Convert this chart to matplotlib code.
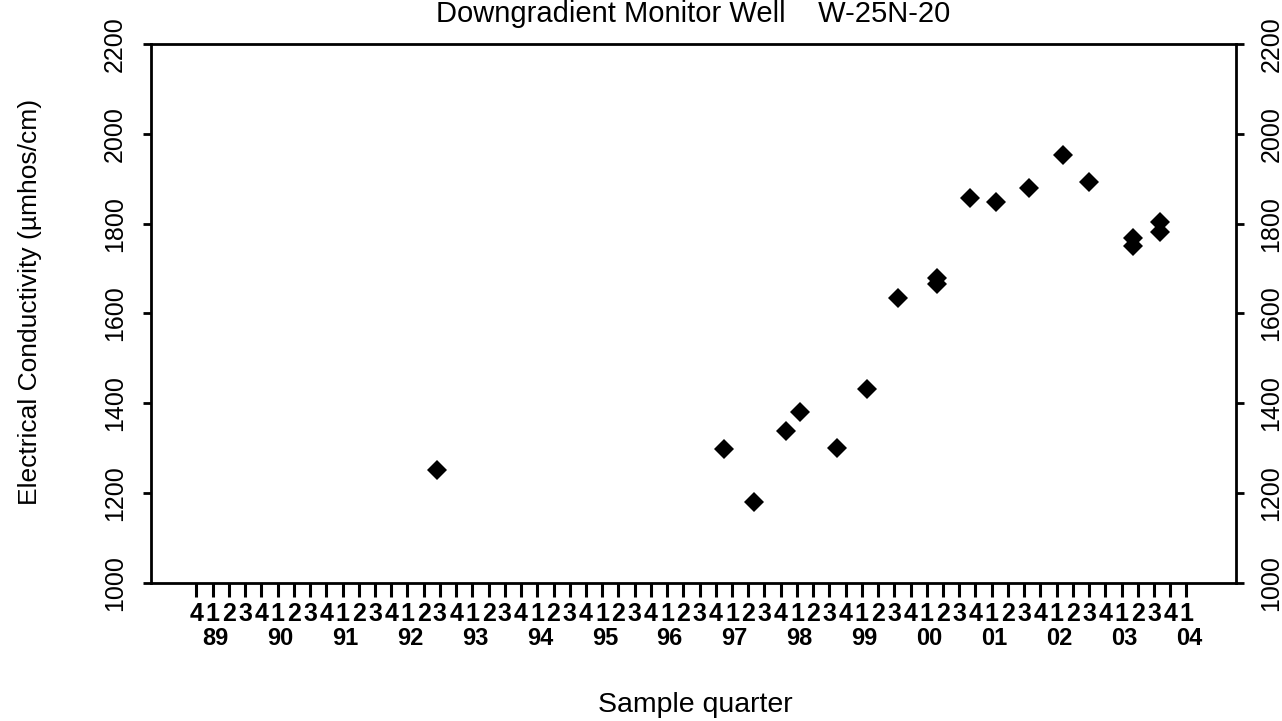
import matplotlib
matplotlib.use('Agg')
import matplotlib.pyplot as plt

plt.rcParams['font.family'] = ['Liberation Sans', 'DejaVu Sans']

# sample date (decimal year) and electrical conductivity (umhos/cm)
sample_year = [1992.45, 1996.87, 1997.34, 1997.83, 1998.04, 1998.62, 1999.08,
               1999.55, 2000.15, 2000.15, 2000.66, 2001.07, 2001.58, 2002.10,
               2002.50, 2003.18, 2003.18, 2003.60, 2003.60]
conductivity = [1252, 1298, 1180, 1339, 1380, 1300, 1432,
                1635, 1678, 1666, 1858, 1849, 1880, 1953,
                1892, 1769, 1750, 1804, 1782]

first_quarter = 1988.75   # Q4 1988 is the first tick
n_quarters = 62           # through Q1 2004
label_years = list(range(1989, 2005))
y_ticks = [1000, 1200, 1400, 1600, 1800, 2000, 2200]

fig = plt.figure(figsize=(12.82, 7.21), dpi=100)
ax = fig.add_axes([0.1176, 0.1914, 0.8465, 0.7476])

ax.plot(sample_year, conductivity, 'D', color='black', markersize=10,
        markeredgewidth=0)

ax.set_xlim(1988.046, 2004.763)
ax.set_ylim(1000, 2200)

# quarter ticks (major) and year labels (minor, no tick mark)
q_pos = [first_quarter + 0.25 * k for k in range(n_quarters)]
q_lab = [str((k + 3) % 4 + 1) for k in range(n_quarters)]
ax.set_xticks(q_pos, q_lab)
ax.set_xticks([y + 0.04 for y in label_years],
              ['%02d' % (y % 100) for y in label_years], minor=True)
ax.tick_params(axis='x', which='major', direction='out', length=10, width=2.2,
               pad=3.5, labelsize=18)
ax.tick_params(axis='x', which='minor', length=0, pad=32, labelsize=17)
for lab in ax.get_xticklabels(which='both'):
    lab.set_fontweight('bold')

ax.set_yticks(y_ticks)
ax.tick_params(axis='y', direction='out', length=6, width=2, labelsize=18,
               left=True, right=True, labelleft=True, labelright=True,
               labelrotation=90)
for t in ax.yaxis.get_major_ticks():
    t.label1.set_va('center')
    t.label2.set_va('center')
    t.label1.set_ha('right')
    t.label2.set_ha('left')
    t.set_pad(11)

for sp in ax.spines.values():
    sp.set_linewidth(2)

fig.text(693 / 1282, 1 - 14 / 721, 'Downgradient Monitor Well    W-25N-20',
         ha='center', va='center', fontsize=21)
fig.text(30 / 1282, 1 - 302 / 721, 'Electrical Conductivity (µmhos/cm)',
         rotation=90, ha='center', va='center', fontsize=19)
fig.text(695 / 1282, 1 - 705 / 721, 'Sample quarter',
         ha='center', va='center', fontsize=20.5)

fig.savefig('out.png', dpi=100)
